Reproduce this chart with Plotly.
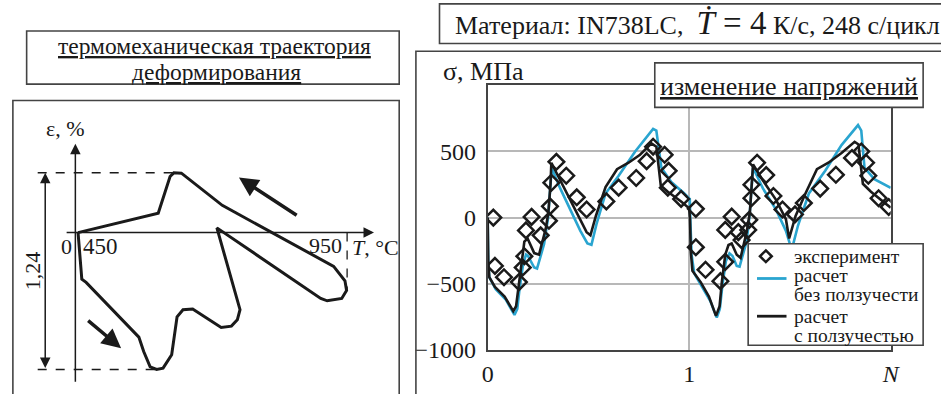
import plotly.graph_objects as go

W, H = 941, 394
FONT = "Liberation Serif, Times New Roman, DejaVu Serif, serif"
INK = "#1a1a1a"
FRAME = "#444444"

# ---------------- thermomechanical strain path (left panel) ----------------
traj_T = [450, 599, 621, 628, 642, 718, 925, 946, 949, 940, 913, 901, 708,
          751, 746, 735, 716, 663, 645, 634, 624, 608, 596, 584, 572, 563,
          465, 457, 450]
traj_eps = [0.0, 0.122, 0.354, 0.377, 0.375, 0.172, -0.213, -0.304, -0.365,
            -0.415, -0.430, -0.415, 0.030, -0.486, -0.550, -0.590, -0.598,
            -0.482, -0.486, -0.531, -0.770, -0.855, -0.863, -0.847, -0.750,
            -0.659, -0.314, -0.294, 0.0]
T_min, T_max = 450, 950
eps_max, eps_range = 0.377, 1.24
eps_min = eps_max - eps_range

# ---------------- stress response (right panel) ----------------
exp_N = [0.028, 0.036, 0.081, 0.155, 0.174, 0.182, 0.190, 0.218, 0.263, 0.304,
         0.309, 0.316, 0.341, 0.390, 0.442, 0.491, 0.589, 0.650, 0.737, 0.789,
         0.821, 0.878, 0.898, 0.894, 0.960, 1.033, 1.033, 1.081, 1.155, 1.179,
         1.179, 1.211, 1.244, 1.260, 1.293, 1.298, 1.309, 1.309, 1.337, 1.382,
         1.418, 1.463, 1.525, 1.569, 1.650, 1.728, 1.808, 1.854, 1.878, 1.889,
         1.940, 1.990]
exp_sig = [0, -365, -450, -487, -377, -292, -97, 5, -134, -24,
           85, 263, 421, 316, 153, 61, 122, 226, 299, 426,
           535, 474, 353, 226, 141, 66, -224, -394, -480, -334,
           -93, 7, -110, -170, -93, -17, 146, 248, 414, 321,
           163, 61, 24, 110, 219, 323, 450, 499, 414, 316,
           146, 80]

creep_N = [0.0, 0.003, 0.008, 0.036, 0.084, 0.109, 0.127, 0.141, 0.153, 0.174,
           0.182, 0.198, 0.231, 0.255, 0.288, 0.301, 0.312, 0.316, 0.361, 0.410,
           0.459, 0.491, 0.510, 0.537, 0.585, 0.642, 0.699, 0.756, 0.813, 0.837,
           0.859, 0.894, 0.960, 1.000, 1.004, 1.008, 1.016, 1.057, 1.098, 1.122,
           1.133, 1.151, 1.162, 1.179, 1.195, 1.211, 1.236, 1.255, 1.285, 1.301,
           1.309, 1.317, 1.366, 1.431, 1.480, 1.496, 1.528, 1.577, 1.634, 1.691,
           1.756, 1.821, 1.840, 1.862, 1.902, 1.951, 2.000]
creep_sig = [0, -330, -450, -523, -596, -657, -706, -669, -523, -304,
             -182, -158, -268, -280, -85, 36, 255, 414, 280, 134,
             -12, -110, -134, 12, 231, 365, 414, 474, 560, 535,
             243, 195, 122, 70, -12, -255, -401, -487, -596, -693,
             -742, -669, -487, -280, -207, -195, -280, -304, -110, 36,
             231, 401, 280, 134, -12, -158, 12, 182, 365, 414,
             487, 572, 552, 255, 195, 134, 75]

elast_N = [0.0, 0.003, 0.008, 0.040, 0.090, 0.115, 0.133, 0.147, 0.158, 0.175,
           0.190, 0.200, 0.231, 0.245, 0.280, 0.300, 0.312, 0.318, 0.360, 0.410,
           0.460, 0.495, 0.515, 0.540, 0.585, 0.650, 0.732, 0.821, 0.837, 0.862,
           0.911, 0.976, 1.003, 1.006, 1.012, 1.025, 1.065, 1.105, 1.125, 1.137,
           1.152, 1.165, 1.182, 1.200, 1.215, 1.236, 1.250, 1.285, 1.300, 1.310,
           1.317, 1.366, 1.431, 1.480, 1.500, 1.515, 1.540, 1.594, 1.675, 1.756,
           1.838, 1.854, 1.870, 1.919, 2.000]
elast_sig = [0, -330, -450, -540, -620, -690, -735, -690, -540, -360,
             -280, -290, -377, -385, -200, 0, 230, 375, 220, 60,
             -100, -195, -205, -50, 182, 316, 499, 669, 657, 377,
             268, 182, 140, -30, -280, -420, -520, -630, -710, -755,
             -690, -510, -330, -270, -290, -365, -370, -180, 20, 220,
             377, 220, 60, -100, -200, -207, -60, 182, 353, 547,
             698, 657, 377, 290, 225]

# y-axis ticks of the stress plot
sig_ticks = [-1000, -500, 0, 500]
N_ticks = [0, 1, 2]
N_ticktext = ["0", "1", "<i>N</i>"]

BLUE = "#2aa5d0"


def fx(px):
    return px / W


def fy(py):
    return 1 - py / H


fig = go.Figure()

# stress curves
fig.add_trace(go.Scatter(x=elast_N, y=elast_sig, mode="lines",
                         line=dict(color=BLUE, width=2.6),
                         xaxis="x", yaxis="y", showlegend=False))
fig.add_trace(go.Scatter(x=creep_N, y=creep_sig, mode="lines",
                         line=dict(color=INK, width=2.6),
                         xaxis="x", yaxis="y", showlegend=False))
fig.add_trace(go.Scatter(x=exp_N, y=exp_sig, mode="markers",
                         marker=dict(symbol="diamond-open", size=12, color=INK,
                                     line=dict(width=2.5, color=INK)),
                         xaxis="x", yaxis="y", showlegend=False))

# strain path
fig.add_trace(go.Scatter(x=traj_T, y=traj_eps, mode="lines",
                         line=dict(color=INK, width=3),
                         xaxis="x2", yaxis="y2", showlegend=False))

shapes = []


def box(x0, y0, x1, y1, fill=None):
    shapes.append(dict(type="rect", xref="paper", yref="paper",
                       x0=fx(x0), x1=fx(x1), y0=fy(y1), y1=fy(y0),
                       line=dict(color=FRAME, width=1.6),
                       fillcolor=fill if fill else "rgba(0,0,0,0)",
                       layer="above"))


# panel frames and caption boxes
box(7, 104, 400, 420)
box(21, 32, 400, 87)
box(417, 53, 960, 420)
box(441, 4, 960, 45)
box(660, 65, 933, 111, fill="white")
box(755, 252, 933, 357, fill="white")

# dashed guide lines of the strain path
dash = dict(color=INK, width=1.5, dash="dash")
T_dim = 389
shapes.append(dict(type="line", xref="x2", yref="y2", x0=T_dim - 14, x1=628,
                   y0=eps_max, y1=eps_max, line=dash))
shapes.append(dict(type="line", xref="x2", yref="y2", x0=T_dim - 14, x1=596,
                   y0=eps_min, y1=eps_min, line=dash))
shapes.append(dict(type="line", xref="x2", yref="y2", x0=T_max, x1=T_max,
                   y0=0, y1=-0.365, line=dict(color=INK, width=1.3, dash="dash")))

# legend samples
lx, ly, r = 773, 265, 6
shapes.append(dict(type="path", xref="paper", yref="paper",
                   path=(f"M {fx(lx)},{fy(ly - r)} L {fx(lx + r)},{fy(ly)} "
                         f"L {fx(lx)},{fy(ly + r)} L {fx(lx - r)},{fy(ly)} Z"),
                   line=dict(color=INK, width=2.5), layer="above"))
shapes.append(dict(type="line", xref="paper", yref="paper",
                   x0=fx(764), x1=fx(794), y0=fy(288), y1=fy(288),
                   line=dict(color=BLUE, width=2.8), layer="above"))
shapes.append(dict(type="line", xref="paper", yref="paper",
                   x0=fx(764), x1=fx(794), y0=fy(327), y1=fy(327),
                   line=dict(color=INK, width=2.8), layer="above"))

ann = []


def text(px, py, s, size, xanchor="center", angle=0):
    ann.append(dict(xref="paper", yref="paper", x=fx(px), y=fy(py), text=s,
                    showarrow=False, xanchor=xanchor, yanchor="middle",
                    textangle=angle,
                    font=dict(family=FONT, size=size, color=INK)))


def arrow(x_tip, y_tip, x_tail, y_tail, width, size, both=False):
    ann.append(dict(xref="x2", yref="y2", axref="x2", ayref="y2",
                    x=x_tip, y=y_tip, ax=x_tail, ay=y_tail, text="",
                    showarrow=True, arrowhead=2, arrowsize=size,
                    arrowwidth=width, arrowcolor=INK, standoff=0,
                    startstandoff=0, startarrowhead=2, startarrowsize=size,
                    arrowside="end+start" if both else "end"))


# captions
text(212, 48, "<u>термомеханическая траектория</u>", 23.5)
text(214, 74, "<u>деформирования</u>", 23.5)
text(455, 24, "Материал: IN738LC,  <span style='font-size:33px'><i>Ṫ</i> = 4</span>"
     " К/с, 248 с/цикл", 26, xanchor="left")
text(797, 89, "<u>изменение напряжений</u>", 26)
text(443, 74, "σ, МПа", 26, xanchor="left")

# legend text
text(800, 265, "эксперимент", 19.5, xanchor="left")
text(800, 285, "расчет", 19.5, xanchor="left")
text(800, 305, "без ползучести", 19.5, xanchor="left")
text(800, 327, "расчет", 19.5, xanchor="left")
text(800, 347, "с ползучестью", 19.5, xanchor="left")

# strain-path axis labels
text(61, 133, "ε, %", 22)
text(62, 255, "0", 22)
text(96, 255, str(T_min), 23)
text(325, 254, str(T_max), 22)
text(376, 256, "<i>T</i>, °C", 22)
text(27, 280, "1,24", 22, angle=-90)

# strain-path axes, dimension and direction arrows
arrow(445, 0.56, 445, -0.95, 1.5, 1.4)
arrow(1000, 0.0, 426, 0.0, 1.5, 1.4)
arrow(T_dim, eps_max, T_dim, eps_min, 1.5, 1.4, both=True)
arrow(749, 0.347, 859, 0.103, 3.5, 1.1)
arrow(530, -0.729, 466, -0.547, 3.5, 1.1)

axis_common = dict(showline=True, mirror=True, linecolor=FRAME, linewidth=1.5,
                   gridcolor="#b8b8b8", gridwidth=1.5, zeroline=False,
                   ticks="", tickfont=dict(family=FONT, size=24, color=INK))

fig.update_layout(
    width=W, height=H,
    margin=dict(l=0, r=0, t=0, b=0),
    paper_bgcolor="white", plot_bgcolor="white",
    showlegend=False,
    font=dict(family=FONT, color=INK),
    xaxis=dict(domain=[fx(490), fx(900)], range=[0, 2], tickvals=N_ticks,
               ticktext=N_ticktext, anchor="y", ticklabelstandoff=1,
               **axis_common),
    yaxis=dict(domain=[fy(362), fy(88)], range=[-1000, 1000],
               tickvals=sig_ticks, anchor="x", ticklabelstandoff=5,
               **axis_common),
    xaxis2=dict(domain=[fx(7), fx(400)], range=[328.9, 1046.8], visible=False,
                anchor="y2"),
    yaxis2=dict(domain=[0, fy(104)], range=[-0.936, 0.833], visible=False,
                anchor="x2"),
    shapes=shapes,
    annotations=ann,
)

fig.write_html("out.html")
